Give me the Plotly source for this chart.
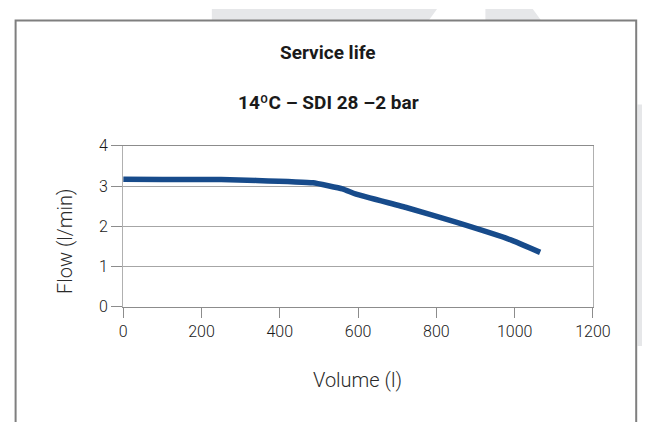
import plotly.graph_objects as go

# Data
volume_l = [0, 100, 250, 340, 485, 560, 595, 725, 850, 990, 1065]
flow_lpm = [3.17, 3.16, 3.16, 3.14, 3.08, 2.93, 2.80, 2.46, 2.10, 1.66, 1.35]

x_ticks = [0, 200, 400, 600, 800, 1000, 1200]
y_ticks = [0, 1, 2, 3, 4]

title_text = "Service life"
subtitle_text = "14ºC – SDI 28 –2 bar"
x_title = "Volume (l)"
y_title = "Flow (l/min)"

W, H = 660, 422
FONT = "Roboto, 'DejaVu Sans', sans-serif"


def px(x):
    return x / W


def py(y):
    return 1 - y / H


fig = go.Figure()
fig.add_trace(go.Scatter(
    x=volume_l, y=flow_lpm, mode="lines",
    line=dict(color="#174b8b", width=5.5, shape="spline", smoothing=0.3),
    hoverinfo="x+y", showlegend=False,
))

grey_fill = "#e6e7e9"
shapes = [
    # background watermark fragments
    dict(type="path", xref="paper", yref="paper", layer="below",
         path=f"M {px(215)} {py(0)} L {px(448)} {py(0)} L {px(438)} {py(14)} L {px(215)} {py(14)} Z",
         fillcolor=grey_fill, line=dict(width=0)),
    dict(type="path", xref="paper", yref="paper", layer="below",
         path=f"M {px(498)} {py(0)} L {px(547)} {py(0)} L {px(557)} {py(14)} L {px(498)} {py(14)} Z",
         fillcolor=grey_fill, line=dict(width=0)),
    dict(type="rect", xref="paper", yref="paper", layer="below",
         x0=px(655.5), x1=px(660), y0=py(100), y1=py(353),
         fillcolor=grey_fill, line=dict(width=0)),
    # framed box
    dict(type="rect", xref="paper", yref="paper", layer="below",
         x0=px(12), x1=px(654), y0=py(12), y1=py(440),
         fillcolor="white", line=dict(color="#7f7f7f", width=2)),
]

annotations = [
    dict(text=f"<b>{title_text}</b>", x=px(335), y=py(46), xref="paper", yref="paper",
         showarrow=False, xanchor="center", yanchor="middle",
         font=dict(family=FONT, size=19, color="#1a1a1a")),
    dict(text=f"<b>{subtitle_text}</b>", x=px(336), y=py(98), xref="paper", yref="paper",
         showarrow=False, xanchor="center", yanchor="middle",
         font=dict(family=FONT, size=19, color="#1a1a1a")),
    dict(text=x_title, x=px(366), y=py(388), xref="paper", yref="paper",
         showarrow=False, xanchor="center", yanchor="middle",
         font=dict(family=FONT, size=20, color="#2a2a2a", weight=300)),
    dict(text=y_title, x=px(63), y=py(243), xref="paper", yref="paper",
         showarrow=False, xanchor="center", yanchor="middle", textangle=-90,
         font=dict(family=FONT, size=20, color="#2a2a2a", weight=300)),
]

fig.update_layout(
    width=W, height=H,
    margin=dict(l=0, r=0, t=0, b=0),
    paper_bgcolor="white",
    plot_bgcolor="rgba(0,0,0,0)",
    shapes=shapes,
    annotations=annotations,
    xaxis=dict(
        domain=[px(123.3), px(609.3)], range=[0, 1200],
        tickmode="array", tickvals=x_ticks, ticktext=[str(v) for v in x_ticks],
        ticks="outside", ticklen=10, tickcolor="#8c8c8c", tickwidth=1,
        showline=True, linecolor="#8c8c8c", linewidth=1, mirror=True,
        showgrid=False, zeroline=False,
        tickfont=dict(family=FONT, size=16, color="#1a1a1a", weight=300),
        fixedrange=True,
    ),
    yaxis=dict(
        domain=[py(311.7), py(143.3)], range=[0, 4],
        tickmode="array", tickvals=y_ticks, ticktext=[str(v) for v in y_ticks],
        ticks="outside", ticklen=11, tickcolor="#8c8c8c", tickwidth=1,
        showline=True, linecolor="#b0b0b0", linewidth=1, mirror=True,
        showgrid=True, gridcolor="#a6a6a6", gridwidth=1, zeroline=False,
        tickfont=dict(family=FONT, size=16, color="#1a1a1a", weight=300),
        fixedrange=True,
    ),
)

fig.write_html(
    "out.html",
    config={"displayModeBar": False},
    post_script="document.body.style.margin='0';document.body.style.overflow='hidden';",
)
